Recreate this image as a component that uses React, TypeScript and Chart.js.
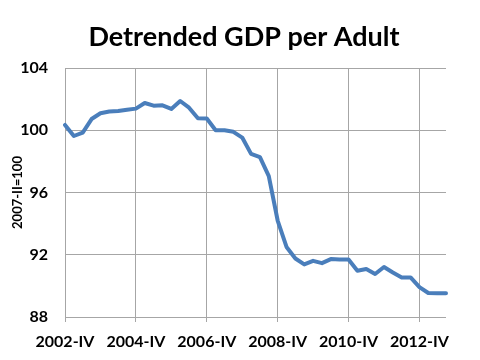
import React, { useEffect, useRef } from "react";
import { Chart, registerables } from "chart.js";

Chart.register(...registerables);

const quarters: string[] = [
  "2002-IV",
  "2003-I", "2003-II", "2003-III", "2003-IV",
  "2004-I", "2004-II", "2004-III", "2004-IV",
  "2005-I", "2005-II", "2005-III", "2005-IV",
  "2006-I", "2006-II", "2006-III", "2006-IV",
  "2007-I", "2007-II", "2007-III", "2007-IV",
  "2008-I", "2008-II", "2008-III", "2008-IV",
  "2009-I", "2009-II", "2009-III", "2009-IV",
  "2010-I", "2010-II", "2010-III", "2010-IV",
  "2011-I", "2011-II", "2011-III", "2011-IV",
  "2012-I", "2012-II", "2012-III", "2012-IV",
  "2013-I", "2013-II", "2013-III",
];

const gdpPerAdult: number[] = [
  100.34,
  99.63, 99.85, 100.72, 101.09,
  101.2, 101.24, 101.32, 101.39,
  101.75, 101.58, 101.6, 101.37,
  101.88, 101.45, 100.77, 100.75,
  100.0, 100.0, 99.9, 99.53,
  98.48, 98.27, 97.05, 94.2,
  92.5, 91.76, 91.38, 91.61,
  91.46, 91.72, 91.7, 91.7,
  90.97, 91.08, 90.76, 91.21,
  90.86, 90.54, 90.54, 89.92,
  89.54, 89.52, 89.52,
];

const yTicks: number[] = [88, 92, 96, 100, 104];
const labelEvery = 8;

const chartTitle = "Detrended GDP per Adult";
const yAxisTitle = "2007-II=100";

const FONT = "Lato, 'Open Sans', sans-serif";

const titlePlugin = {
  id: "centeredTitle",
  afterDraw(chart: any) {
    const ctx = chart.ctx;
    ctx.save();
    ctx.fillStyle = "#000";
    ctx.font = `bold 27px ${FONT}`;
    ctx.textAlign = "center";
    ctx.textBaseline = "middle";
    ctx.fillText(chartTitle, 244, 37);
    ctx.restore();
  },
};

export default function App() {
  const ref = useRef<HTMLCanvasElement | null>(null);

  useEffect(() => {
    if (!ref.current) return;
    const chart = new Chart(ref.current, {
      type: "line",
      data: {
        labels: quarters,
        datasets: [
          {
            data: gdpPerAdult,
            borderColor: "#4A7EBB",
            borderWidth: 4,
            pointRadius: 0,
            tension: 0,
            borderJoinStyle: "round",
            borderCapStyle: "round",
            fill: false,
          },
        ],
      },
      plugins: [titlePlugin],
      options: {
        responsive: false,
        animation: false,
        layout: { padding: { left: 0, right: 34, top: 68, bottom: 0 } },
        plugins: {
          legend: { display: false },
          tooltip: { enabled: false },
          title: { display: false },
        },
        scales: {
          x: {
            type: "category",
            offset: false,
            grid: {
              color: (ctx: any) => (ctx.index % labelEvery === 0 ? "#A6A6A6" : "rgba(0,0,0,0)"),
              lineWidth: 1,
              drawTicks: true,
              tickLength: 5,
            },
            border: { display: false },
            ticks: {
              autoSkip: false,
              maxRotation: 0,
              minRotation: 0,
              padding: 10,
              color: "#000",
              font: { family: FONT, size: 16, weight: "bold" },
              callback: (_v: any, i: number) => (i % labelEvery === 0 ? quarters[i] : ""),
            },
            afterFit: (scale: any) => {
              scale.height = 43;
            },
          },
          y: {
            min: yTicks[0],
            max: yTicks[yTicks.length - 1],
            afterBuildTicks: (scale: any) => {
              scale.ticks = yTicks.map((v) => ({ value: v }));
            },
            grid: { color: "#A6A6A6", lineWidth: 1, drawTicks: false },
            border: { display: false },
            ticks: {
              padding: 17,
              color: "#000",
              font: { family: FONT, size: 16, weight: "bold" },
            },
            title: {
              display: true,
              text: yAxisTitle,
              color: "#000",
              font: { family: FONT, size: 13, weight: "bold", lineHeight: 1.2 },
              padding: { top: 10, bottom: 0 },
            },
            afterFit: (scale: any) => {
              scale.width = 65;
            },
          },
        },
      },
    });
    return () => chart.destroy();
  }, []);

  return (
    <div style={{ position: "fixed", left: 0, top: 0, width: 480, height: 360, background: "#fff" }}>
      <canvas ref={ref} width={480} height={360} style={{ width: 480, height: 360 }} />
    </div>
  );
}
